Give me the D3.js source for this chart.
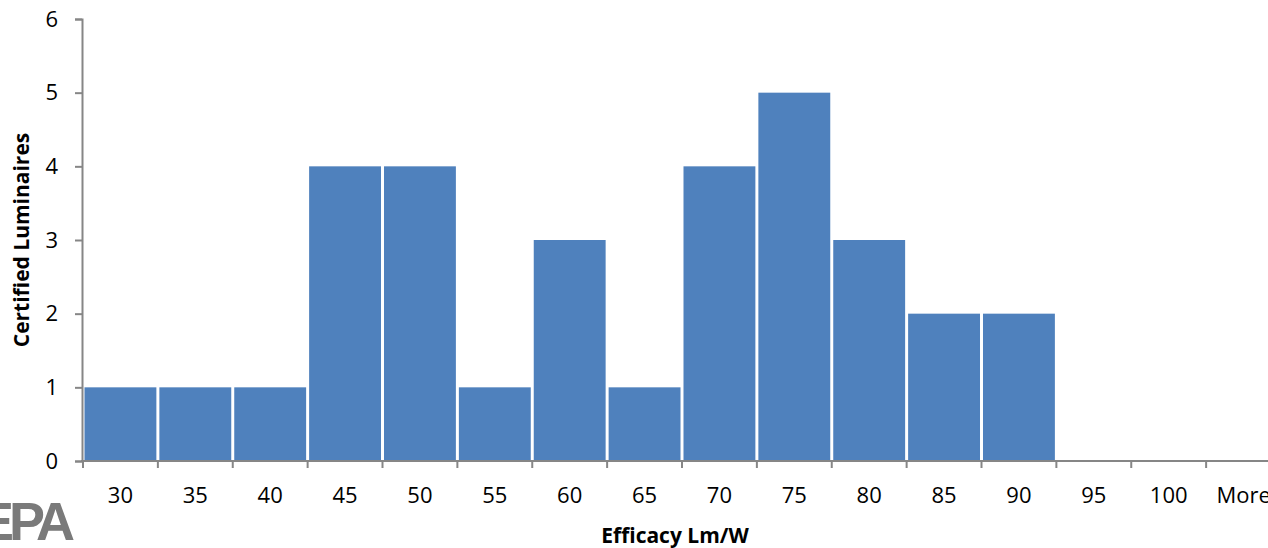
<!DOCTYPE html>
<html>
<head>
<meta charset="utf-8">
<script src="https://cdn.jsdelivr.net/npm/d3@7"></script>
<style>
  body { margin: 0; background: #fff; }
  svg { display: block; font-family: "Open Sans", "Liberation Sans", sans-serif; }
</style>
</head>
<body>
<svg width="1268" height="548"></svg>
<script>
// histogram bins and counts
var bins = ["30", "35", "40", "45", "50", "55", "60", "65", "70", "75", "80", "85", "90", "95", "100", "More"];
var counts = [1, 1, 1, 4, 4, 1, 3, 1, 4, 5, 3, 2, 2, 0, 0, 0];
var yTicks = [0, 1, 2, 3, 4, 5, 6];

var svg = d3.select("svg");
var mLeft = 83, mRight = 1281, mTop = 19, mBottom = 461;

var x = d3.scaleBand()
    .domain(bins)
    .range([mLeft, mRight])
    .paddingInner(0.04)
    .paddingOuter(0.02);

var y = d3.scaleLinear()
    .domain([0, 6])
    .range([mBottom, mTop]);

// bars
svg.selectAll("rect.bar")
    .data(bins)
    .enter().append("rect")
    .attr("class", "bar")
    .attr("x", function(d) { return x(d); })
    .attr("width", x.bandwidth())
    .attr("y", function(d, i) { return y(counts[i]); })
    .attr("height", function(d, i) { return mBottom - y(counts[i]); })
    .attr("fill", "#4F81BD");

// y axis
var yAxis = svg.append("g")
    .attr("transform", "translate(" + (mLeft - 1) + ",0)")
    .call(d3.axisLeft(y).tickValues(yTicks).tickSize(7).tickPadding(17).tickFormat(d3.format("d")));
yAxis.select(".domain").attr("stroke", "#868686").attr("stroke-width", 2);
yAxis.selectAll(".tick line").attr("stroke", "#868686").attr("stroke-width", 2);
yAxis.selectAll(".tick text").attr("font-size", 22).attr("fill", "#000").attr("font-family", "Open Sans");

// x axis (labels only, ticks drawn at bin boundaries)
var xAxis = svg.append("g")
    .attr("transform", "translate(0," + mBottom + ")")
    .call(d3.axisBottom(x).tickSize(0).tickPadding(26));
xAxis.select(".domain").remove();
xAxis.selectAll(".tick text").attr("font-size", 22).attr("fill", "#000").attr("font-family", "Open Sans");

var step = x.step();
var edges = d3.range(bins.length + 1).map(function(i) { return mLeft + i * step; });
svg.append("line")
    .attr("x1", mLeft - 2).attr("x2", mRight)
    .attr("y1", mBottom).attr("y2", mBottom)
    .attr("stroke", "#868686").attr("stroke-width", 2);
svg.selectAll("line.xtick")
    .data(edges)
    .enter().append("line")
    .attr("class", "xtick")
    .attr("x1", function(d) { return d; }).attr("x2", function(d) { return d; })
    .attr("y1", mBottom).attr("y2", mBottom + 7)
    .attr("stroke", "#868686").attr("stroke-width", 2);

// axis titles
svg.append("text")
    .attr("x", 675).attr("y", 543)
    .attr("text-anchor", "middle")
    .attr("font-size", 21).attr("font-weight", "bold")
    .text("Efficacy Lm/W");

svg.append("text")
    .attr("transform", "translate(29,240) rotate(-90)")
    .attr("text-anchor", "middle")
    .attr("font-size", 21).attr("font-weight", "bold")
    .text("Certified Luminaires");

// EPA logo fragment
svg.append("text")
    .attr("x", -22).attr("y", 540)
    .attr("font-size", 54).attr("font-weight", "bold")
    .attr("font-family", "Liberation Sans, sans-serif")
    .attr("letter-spacing", -5)
    .attr("fill", "#7a7a7a")
    .text("EPA");
</script>
</body>
</html>
